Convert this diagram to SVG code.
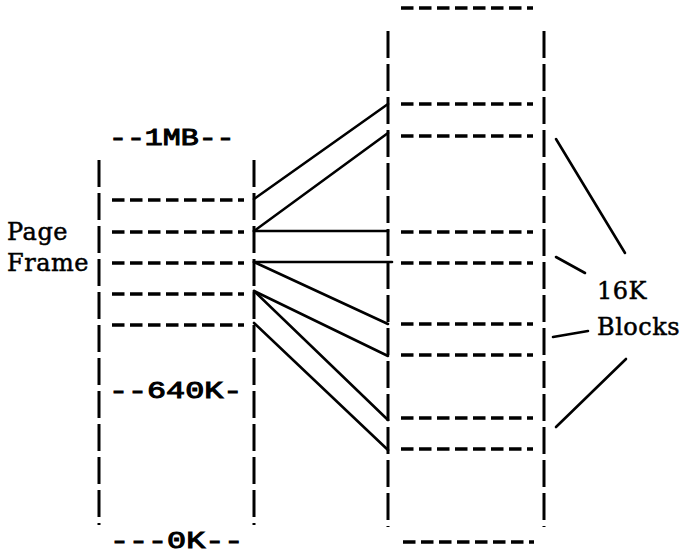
<svg xmlns="http://www.w3.org/2000/svg" width="684" height="556" viewBox="0 0 684 556">
<style>
.bg{fill:#fff}
.vb{stroke:#000;stroke-width:3;stroke-dasharray:27 6;fill:none}
.hd{stroke:#000;stroke-width:3.4;stroke-dasharray:12.5 5.5;fill:none}
.cn{stroke:#000;stroke-width:2.6;fill:none;stroke-linecap:round}
.mono{font-family:"Liberation Mono","Courier New",monospace;font-size:23px;fill:#000;stroke:#000;stroke-width:1}
.ser{font-family:"DejaVu Serif","Liberation Serif",serif;font-size:24px;fill:#000;stroke:#000;stroke-width:0.5;letter-spacing:0.5px}
</style>
<rect class="bg" width="684" height="556"/>
<g id="memory-map">
  <line class="vb" x1="99" y1="160" x2="99" y2="525"/>
  <line class="vb" x1="254" y1="160" x2="254" y2="525"/>
  <text class="mono" transform="translate(109 145) scale(1.3 1)">--1MB--</text>
  <text class="mono" transform="translate(109 398) scale(1.38 1)">--640K-</text>
  <text class="mono" transform="translate(110 548) scale(1.38 1)">---0K--</text>
  <line class="hd" x1="112" y1="200" x2="244" y2="200"/>
  <line class="hd" x1="112" y1="232" x2="244" y2="232"/>
  <line class="hd" x1="112" y1="263" x2="244" y2="263"/>
  <line class="hd" x1="112" y1="294" x2="244" y2="294"/>
  <line class="hd" x1="112" y1="325" x2="244" y2="325"/>
</g>
<g id="page-frame-label">
  <text class="ser" x="7" y="240">Page</text>
  <text class="ser" x="7" y="271">Frame</text>
</g>
<g id="expanded-memory">
  <line class="vb" x1="388" y1="31" x2="388" y2="527"/>
  <line class="vb" x1="544" y1="31" x2="544" y2="527"/>
  <line class="hd" x1="401" y1="8" x2="533" y2="8"/>
  <line class="hd" x1="401" y1="104" x2="533" y2="104"/>
  <line class="hd" x1="401" y1="136" x2="533" y2="136"/>
  <line class="hd" x1="401" y1="232" x2="533" y2="232"/>
  <line class="hd" x1="401" y1="263" x2="533" y2="263"/>
  <line class="hd" x1="401" y1="324" x2="533" y2="324"/>
  <line class="hd" x1="401" y1="355" x2="533" y2="355"/>
  <line class="hd" x1="401" y1="418" x2="533" y2="418"/>
  <line class="hd" x1="401" y1="449" x2="533" y2="449"/>
  <line class="hd" x1="403" y1="542" x2="534" y2="542"/>
</g>
<g id="blocks-label">
  <text class="ser" x="597" y="299">16K</text>
  <text class="ser" x="597" y="335">Blocks</text>
</g>
<g id="connectors">
  <line class="cn" x1="254" y1="199" x2="388" y2="104"/>
  <line class="cn" x1="254" y1="231" x2="388" y2="133"/>
  <line class="cn" x1="254" y1="231" x2="388" y2="231"/>
  <line class="cn" x1="254" y1="262" x2="392" y2="262"/>
  <line class="cn" x1="254" y1="262" x2="388" y2="324"/>
  <line class="cn" x1="254" y1="291" x2="388" y2="356"/>
  <line class="cn" x1="254" y1="291" x2="388" y2="420"/>
  <line class="cn" x1="254" y1="323" x2="388" y2="450"/>
  <line class="cn" x1="556" y1="139" x2="625" y2="253"/>
  <line class="cn" x1="556" y1="257" x2="585" y2="273"/>
  <line class="cn" x1="553" y1="337" x2="588" y2="331"/>
  <line class="cn" x1="556" y1="427" x2="626" y2="359"/>
</g>
</svg>
